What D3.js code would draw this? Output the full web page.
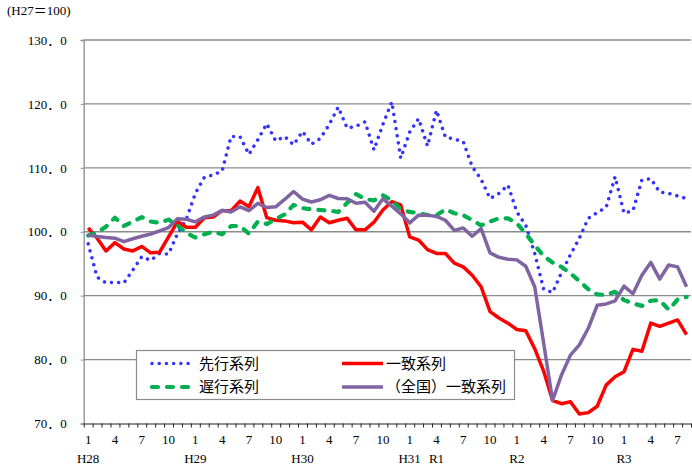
<!DOCTYPE html>
<html>
<head>
<meta charset="utf-8">
<script src="https://cdn.jsdelivr.net/npm/d3@7"></script>
<style>
  body { margin: 0; background: #fff; }
  svg { display: block; }
  .num { font-family: "Liberation Serif", "Noto Sans CJK JP", serif; fill: #000; }
  .jp { font-family: "Noto Sans CJK JP", sans-serif; fill: #000; }
</style>
</head>
<body>
<div id="chart"></div>
<script>
// months Jan 2016 (H28.1) .. Aug 2021 (R3.8)
const categories = d3.timeMonth.range(new Date(2016, 0, 1), new Date(2021, 8, 1));

const leading = [98.1, 92.9, 92.0, 92.1, 92.0, 94.0, 96.1, 95.5, 96.6, 96.5,
  99.7, 102.0, 106.0, 108.5, 108.9, 109.5, 114.9, 114.9, 112.1, 114.4,
  116.9, 114.2, 114.9, 113.6, 115.7, 113.7, 114.6, 116.8, 119.5, 116.2,
  116.5, 117.2, 112.8, 116.8, 120.3, 111.5, 115.6, 117.7, 113.4, 119.0,
  114.8, 114.5, 114.1, 110.2, 108.2, 105.2, 106.0, 107.3, 103.1, 101.0,
  96.6, 91.0, 90.5, 93.6, 96.4, 99.0, 102.1, 103.0, 103.8, 108.6,
  102.9, 103.3, 108.1, 108.3, 106.2, 106.0, 105.6, 105.2];

const coincident = [100.6, 99.0, 97.0, 98.3, 97.3, 97.0, 97.7, 96.7, 96.8, 99.2,
  101.6, 100.7, 100.7, 102.2, 102.3, 103.3, 103.3, 104.8, 103.9, 106.9,
  102.2, 101.8, 101.7, 101.4, 101.5, 100.3, 102.3, 101.4, 101.8, 102.1,
  100.3, 100.3, 101.5, 103.4, 104.7, 104.2, 99.2, 98.7, 97.2, 96.6,
  96.6, 95.1, 94.5, 93.2, 91.4, 87.5, 86.5, 85.7, 84.7, 84.5,
  81.7, 78.2, 73.6, 73.1, 73.4, 71.5, 71.7, 72.7, 76.0, 77.3,
  78.1, 81.6, 81.3, 85.7, 85.2, 85.7, 86.2, 83.9];

const lagging = [99.4, 99.9, 100.8, 102.2, 100.9, 101.6, 102.3, 101.6, 101.4, 101.9,
  101.0, 99.8, 99.1, 99.6, 100.0, 99.6, 100.9, 100.9, 99.7, 101.6,
  101.2, 102.0, 102.7, 104.2, 103.7, 103.5, 103.4, 103.3, 103.1, 104.5,
  105.9, 105.1, 104.9, 105.7, 104.9, 103.5, 103.1, 102.9, 102.6, 102.6,
  103.5, 102.9, 102.6, 101.8, 101.0, 101.6, 102.1, 102.1, 101.3, 99.7,
  97.9, 96.2, 95.2, 94.5, 93.5, 92.3, 91.0, 90.2, 90.1, 90.6,
  89.3, 88.8, 88.4, 89.2, 89.3, 87.8, 89.4, 89.8];

const national = [99.5, 99.25, 99.1, 99.0, 98.45, 98.9, 99.3, 99.65, 100.15, 100.65,
  102.05, 101.95, 101.55, 102.3, 102.6, 103.35, 103.1, 103.9, 103.3, 104.45,
  103.8, 103.9, 105.05, 106.3, 105.1, 104.65, 105.0, 105.7, 105.2, 105.15,
  104.45, 104.6, 103.2, 105.15, 104.0, 102.8, 101.4, 102.6, 102.6, 102.4,
  101.8, 100.2, 100.6, 99.3, 100.5, 96.7, 96.0, 95.7, 95.6, 94.6,
  91.4, 82.6, 73.6, 77.6, 80.7, 82.3, 84.9, 88.5, 88.7, 89.2,
  91.5, 90.3, 93.2, 95.2, 92.6, 94.8, 94.5, 91.4];

const yTicks = [70, 80, 90, 100, 110, 120, 130];
const monthTicks = [1, 4, 7, 10];
const eras = [["H28", "2016-01"], ["H29", "2017-01"], ["H30", "2018-01"],
  ["H31", "2019-01"], ["R1", "2019-04"], ["R2", "2020-01"], ["R3", "2021-01"]];

const series = [
  { name: "先行系列", values: leading, color: "#3333ff", width: 3.5, dash: "0.01,7.2", cap: "round" },
  { name: "一致系列", values: coincident, color: "#ff0000", width: 3.5, dash: null, cap: "butt" },
  { name: "遅行系列", values: lagging, color: "#00b050", width: 4.2, dash: "6,9", cap: "round" },
  { name: "（全国）一致系列", values: national, color: "#8064a2", width: 3.5, dash: null, cap: "butt" }
];

const width = 692;
const height = 470;
const plot = { left: 83.7, right: 691, top: 40, bottom: 423.5 };

const svg = d3.select('#chart').append('svg')
  .attr('width', width)
  .attr('height', height);

const fmtKey = d3.timeFormat('%Y-%m');
const keys = categories.map(fmtKey);

const x = d3.scaleBand().domain(keys).range([plot.left, plot.right]).paddingInner(0).paddingOuter(0);
const xc = (k) => x(k) + x.bandwidth() / 2;
const y = d3.scaleLinear().domain([70, 130]).range([plot.bottom, plot.top]);

// gridlines
svg.append('g')
  .selectAll('line')
  .data(yTicks.filter((d) => d > 70))
  .join('line')
  .attr('x1', plot.left).attr('x2', plot.right)
  .attr('y1', (d) => y(d)).attr('y2', (d) => y(d))
  .attr('stroke', '#8c8c8c')
  .attr('stroke-width', 1.3);

// y axis
const yAxis = svg.append('g')
  .attr('transform', `translate(${plot.left},0)`)
  .call(d3.axisLeft(y).tickValues(yTicks).tickSize(3).tickPadding(14)
    .tickFormat((d) => d3.format('.1f')(d).replace('.', '．')));
yAxis.select('.domain').attr('stroke', '#8c8c8c').attr('stroke-width', 1.3);
yAxis.selectAll('.tick line').attr('stroke', '#8c8c8c');
yAxis.selectAll('.tick text')
  .attr('class', 'num')
  .style('font-size', '13px');

// x axis: ticks on month boundaries
const xb = d3.scaleLinear().domain([0, keys.length]).range([plot.left, plot.right]);
const xAxis = svg.append('g')
  .attr('transform', `translate(0,${plot.bottom})`)
  .call(d3.axisBottom(xb).tickValues(d3.range(0, keys.length + 1)).tickSize(4).tickSizeOuter(0).tickFormat(''));
xAxis.select('.domain').attr('stroke', '#222').attr('stroke-width', 1.2);
xAxis.selectAll('.tick line').attr('stroke', '#222');

// month labels
const monthKeys = categories.filter((d) => monthTicks.includes(d.getMonth() + 1)).map(fmtKey);
const xLab = svg.append('g')
  .attr('transform', `translate(0,${plot.bottom})`)
  .call(d3.axisBottom(x).tickValues(monthKeys).tickSize(0).tickPadding(11)
    .tickFormat((k) => String(+k.slice(5))));
xLab.select('.domain').remove();
xLab.selectAll('.tick text').attr('class', 'num').style('font-size', '13px');

// era labels
svg.append('g')
  .selectAll('text')
  .data(eras)
  .join('text')
  .attr('class', 'num')
  .attr('x', (d) => xc(d[1]))
  .attr('y', 463)
  .attr('text-anchor', 'middle')
  .style('font-size', '13px')
  .text((d) => d[0]);

// unit label
svg.append('text')
  .attr('class', 'num')
  .attr('x', 7)
  .attr('y', 15)
  .style('font-size', '13px')
  .text('(H27＝100)');

// lines
const line = d3.line()
  .x((d, i) => xc(keys[i]))
  .y((d) => y(d));

svg.append('g')
  .selectAll('path')
  .data(series)
  .join('path')
  .attr('d', (s) => line(s.values))
  .attr('fill', 'none')
  .attr('stroke', (s) => s.color)
  .attr('stroke-width', (s) => s.width)
  .attr('stroke-dasharray', (s) => s.dash)
  .attr('stroke-linecap', (s) => s.cap)
  .attr('stroke-linejoin', 'round');

// legend
const lg = svg.append('g');
lg.append('rect')
  .attr('x', 136.5).attr('y', 350.5)
  .attr('width', 378).attr('height', 49)
  .attr('fill', '#fff')
  .attr('stroke', '#8c8c8c')
  .attr('stroke-width', 1.2);

const legendPos = [[152, 363.5], [342, 363.5], [152, 387], [342, 387]];
series.forEach((s, i) => {
  const [lx, ly] = legendPos[i];
  lg.append('line')
    .attr('x1', lx).attr('x2', lx + 41)
    .attr('y1', ly).attr('y2', ly)
    .attr('stroke', s.color)
    .attr('stroke-width', s.width)
    .attr('stroke-dasharray', s.dash)
    .attr('stroke-linecap', s.cap);
  lg.append('text')
    .attr('class', 'jp')
    .attr('x', lx + (i % 2 === 0 ? 47 : 44))
    .attr('y', ly)
    .attr('dy', '0.35em')
    .style('font-size', '15px')
    .text(s.name);
});
</script>
</body>
</html>
